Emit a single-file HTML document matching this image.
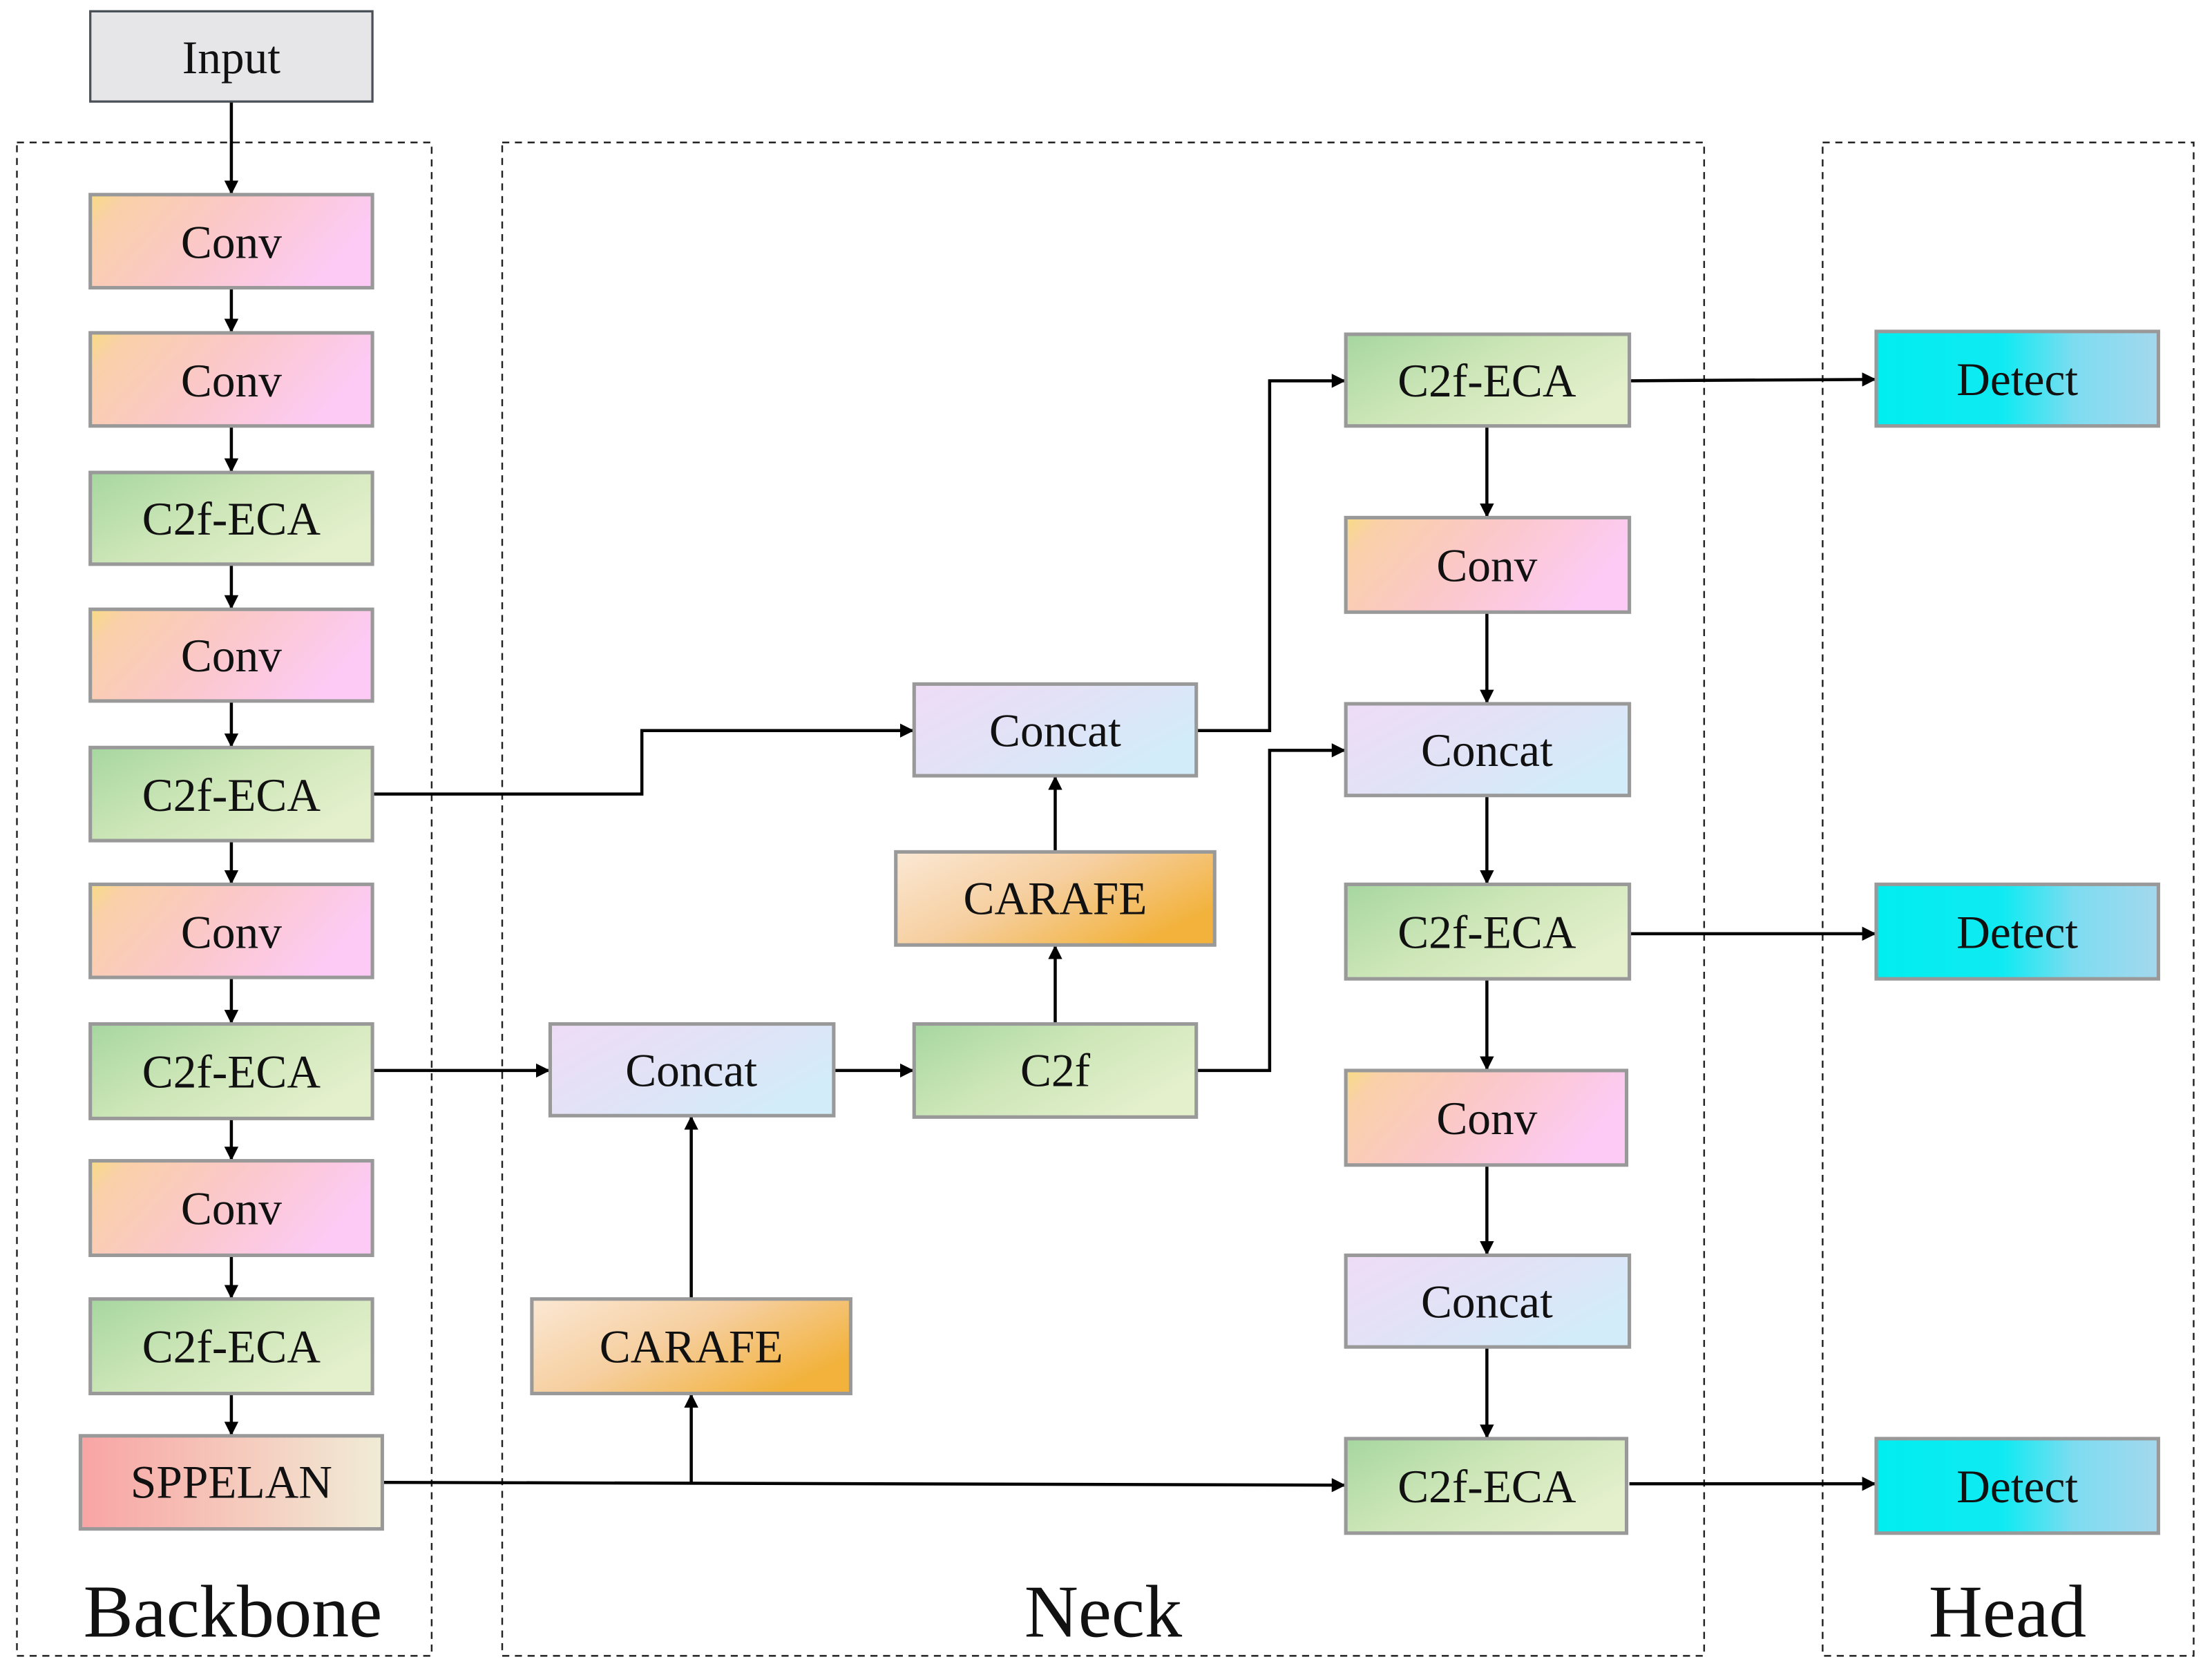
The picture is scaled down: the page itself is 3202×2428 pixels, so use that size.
<!DOCTYPE html>
<html><head><meta charset="utf-8"><style>
html,body{margin:0;padding:0;background:#fff}
svg{display:block}
text{font-family:"Liberation Serif",serif;fill:#111}
</style></head><body>
<svg width="3202" height="2428" viewBox="0 0 1568 1189" preserveAspectRatio="none" xmlns="http://www.w3.org/2000/svg">
<defs>
<linearGradient id="conv" x1="0" y1="0" x2="1" y2="0.3"><stop offset="0" stop-color="#f8dc84"/><stop offset="0.12" stop-color="#f9d0a8"/><stop offset="0.5" stop-color="#fbc8c8"/><stop offset="1" stop-color="#fccaf4"/></linearGradient>
<linearGradient id="c2f" x1="0" y1="0" x2="1" y2="0.6"><stop offset="0" stop-color="#a6d6a0"/><stop offset="0.5" stop-color="#cde6b8"/><stop offset="1" stop-color="#e4f0cc"/></linearGradient>
<linearGradient id="cat" x1="0" y1="0" x2="1" y2="0.6"><stop offset="0" stop-color="#efdcf6"/><stop offset="0.5" stop-color="#e2e2f6"/><stop offset="1" stop-color="#d2ecfa"/></linearGradient>
<linearGradient id="car" x1="0" y1="0" x2="1" y2="0.6"><stop offset="0" stop-color="#fbe8d4"/><stop offset="0.5" stop-color="#f6cfa0"/><stop offset="1" stop-color="#f2b23c"/></linearGradient>
<linearGradient id="det" x1="0" y1="0" x2="1" y2="0"><stop offset="0" stop-color="#00eef0"/><stop offset="0.45" stop-color="#10eaf2"/><stop offset="0.7" stop-color="#7ddcf0"/><stop offset="1" stop-color="#a4d8ee"/></linearGradient>
<linearGradient id="spp" x1="0" y1="0" x2="1" y2="0"><stop offset="0" stop-color="#f8a4a4"/><stop offset="0.5" stop-color="#f6c8bc"/><stop offset="1" stop-color="#f0ecd6"/></linearGradient>
<marker id="ar" markerWidth="10" markerHeight="10" refX="9" refY="5" orient="auto" markerUnits="userSpaceOnUse"><path d="M0,0 L10,5 L0,10 z" fill="#000"/></marker>
</defs>

<g fill="none" stroke="#222" stroke-width="1.2" stroke-dasharray="5,4">
<rect x="12" y="101" width="294" height="1073"/>
<rect x="356" y="101" width="852" height="1073"/>
<rect x="1292" y="101" width="263" height="1073"/>
</g>

<g stroke="#000" stroke-width="2.2" fill="none" marker-end="url(#ar)">
<line x1="164" y1="72" x2="164" y2="137"/>
<line x1="164" y1="204" x2="164" y2="235"/>
<line x1="164" y1="302" x2="164" y2="334"/>
<line x1="164" y1="400" x2="164" y2="431"/>
<line x1="164" y1="497" x2="164" y2="529"/>
<line x1="164" y1="596" x2="164" y2="626"/>
<line x1="164" y1="693" x2="164" y2="725"/>
<line x1="164" y1="793" x2="164" y2="822"/>
<line x1="164" y1="890" x2="164" y2="920"/>
<line x1="164" y1="988" x2="164" y2="1017"/>
<polyline points="264,563 455,563 455,518 647,518"/>
<line x1="264" y1="759" x2="389" y2="759"/>
<line x1="591" y1="759" x2="647" y2="759"/>
<polyline points="271,1051 953,1053"/>
<line x1="490" y1="1051" x2="490" y2="989"/>
<line x1="490" y1="921" x2="490" y2="792"/>
<line x1="748" y1="726" x2="748" y2="671"/>
<line x1="748" y1="604" x2="748" y2="551"/>
<polyline points="848,518 900,518 900,270 953,270"/>
<polyline points="848,759 900,759 900,532 953,532"/>
<line x1="1054" y1="302" x2="1054" y2="366"/>
<line x1="1054" y1="434" x2="1054" y2="498"/>
<line x1="1054" y1="564" x2="1054" y2="626"/>
<line x1="1054" y1="694" x2="1054" y2="758"/>
<line x1="1054" y1="826" x2="1054" y2="889"/>
<line x1="1054" y1="955" x2="1054" y2="1019"/>
<line x1="1155" y1="270" x2="1329" y2="269"/>
<line x1="1155" y1="662" x2="1329" y2="662"/>
<line x1="1155" y1="1052" x2="1329" y2="1052"/>
</g>

<g stroke="#999" stroke-width="2.5">
<rect x="64" y="8" width="200" height="64" fill="#e6e6e8" stroke="#4a5058" stroke-width="1.6"/>
<rect x="64" y="138" width="200" height="66" fill="url(#conv)"/>
<rect x="64" y="236" width="200" height="66" fill="url(#conv)"/>
<rect x="64" y="335" width="200" height="65" fill="url(#c2f)"/>
<rect x="64" y="432" width="200" height="65" fill="url(#conv)"/>
<rect x="64" y="530" width="200" height="66" fill="url(#c2f)"/>
<rect x="64" y="627" width="200" height="66" fill="url(#conv)"/>
<rect x="64" y="726" width="200" height="67" fill="url(#c2f)"/>
<rect x="64" y="823" width="200" height="67" fill="url(#conv)"/>
<rect x="64" y="921" width="200" height="67" fill="url(#c2f)"/>
<rect x="57" y="1018" width="214" height="66" fill="url(#spp)"/>
<rect x="390" y="726" width="201" height="65" fill="url(#cat)"/>
<rect x="377" y="921" width="226" height="67" fill="url(#car)"/>
<rect x="648" y="726" width="200" height="66" fill="url(#c2f)"/>
<rect x="635" y="604" width="226" height="66" fill="url(#car)"/>
<rect x="648" y="485" width="200" height="65" fill="url(#cat)"/>
<rect x="954" y="237" width="201" height="65" fill="url(#c2f)"/>
<rect x="954" y="367" width="201" height="67" fill="url(#conv)"/>
<rect x="954" y="499" width="201" height="65" fill="url(#cat)"/>
<rect x="954" y="627" width="201" height="67" fill="url(#c2f)"/>
<rect x="954" y="759" width="199" height="67" fill="url(#conv)"/>
<rect x="954" y="890" width="201" height="65" fill="url(#cat)"/>
<rect x="954" y="1020" width="199" height="67" fill="url(#c2f)"/>
<rect x="1330" y="235" width="200" height="67" fill="url(#det)"/>
<rect x="1330" y="627" width="200" height="67" fill="url(#det)"/>
<rect x="1330" y="1020" width="200" height="67" fill="url(#det)"/>
</g>

<g font-size="33" text-anchor="middle" dominant-baseline="central">
<text x="164" y="41">Input</text>
<text x="164" y="172">Conv</text>
<text x="164" y="270">Conv</text>
<text x="164" y="368">C2f-ECA</text>
<text x="164" y="465">Conv</text>
<text x="164" y="564">C2f-ECA</text>
<text x="164" y="661">Conv</text>
<text x="164" y="760">C2f-ECA</text>
<text x="164" y="857">Conv</text>
<text x="164" y="955">C2f-ECA</text>
<text x="164" y="1051">SPPELAN</text>
<text x="490" y="759">Concat</text>
<text x="490" y="955">CARAFE</text>
<text x="748" y="759">C2f</text>
<text x="748" y="637">CARAFE</text>
<text x="748" y="518">Concat</text>
<text x="1054" y="270">C2f-ECA</text>
<text x="1054" y="401">Conv</text>
<text x="1054" y="532">Concat</text>
<text x="1054" y="661">C2f-ECA</text>
<text x="1054" y="793">Conv</text>
<text x="1054" y="923">Concat</text>
<text x="1054" y="1054">C2f-ECA</text>
<text x="1430" y="269">Detect</text>
<text x="1430" y="661">Detect</text>
<text x="1430" y="1054">Detect</text>
</g>
<g font-size="53" text-anchor="middle" dominant-baseline="central">
<text x="165" y="1143">Backbone</text>
<text x="782" y="1143">Neck</text>
<text x="1423" y="1143">Head</text>
</g>
</svg>
</body></html>
